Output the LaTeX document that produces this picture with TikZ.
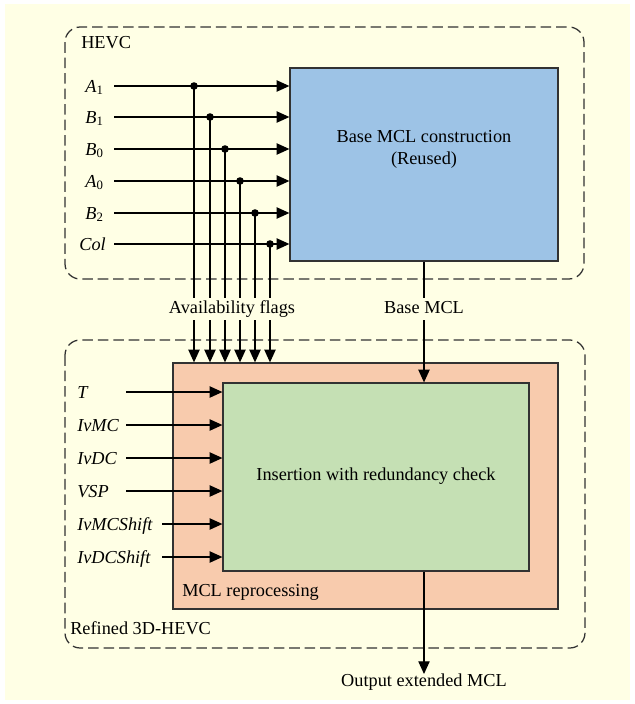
\documentclass[tikz,border=0pt]{standalone}
\usepackage{fontspec}
\setmainfont{Liberation Serif}
\usetikzlibrary{arrows.meta,fit}
\definecolor{bgyellow}{RGB}{255,255,229}
\definecolor{mclblue}{RGB}{157,195,230}
\definecolor{mclorange}{RGB}{248,203,173}
\definecolor{mclgreen}{RGB}{197,224,180}
\definecolor{edgegray}{RGB}{50,50,50}
\tikzset{
  dashbox/.style={draw=edgegray, line width=0.9pt, dash pattern=on 7.5pt off 3.5pt, rounded corners=0.38cm},
  block/.style={draw=edgegray, line width=0.9pt, inner sep=0pt},
  arr/.style={-{Triangle[length=9pt,width=8pt]}, line width=0.9pt},
  lbl/.style={font=\fontsize{13}{15}\selectfont, inner sep=0pt},
  inlbl/.style={lbl, font=\fontsize{13}{15}\selectfont\itshape},
  gaplbl/.style={lbl, fill=bgyellow, inner sep=1.5pt, text height=9pt, text depth=3pt},
  jdot/.style={fill=black},
}

\begin{document}
\begin{tikzpicture}[x=0.025cm,y=-0.025cm]
  \useasboundingbox (0,0) rectangle (635,704);
  \fill[white] (0,0) rectangle (635,704);
  \fill[bgyellow] (5,4) rectangle (630,700); %pozadie

  %ramce
  \draw[dashbox] (65,27) rectangle (584,279); %HEVC
  \draw[dashbox] (65,340) rectangle (585,648); %refined
  \node[lbl, anchor=base west] (hevc) at (81,48) {HEVC};
  \node[lbl, anchor=base west] (refined) at (70,634) {Refined 3D-HEVC};

  %bloky
  \node[block, fill=mclblue, fit={(290,68) (558,261)}] (blue) {};
  \node[lbl, align=center, anchor=base] (bluetxt) at (424,164) {Base MCL construction\\(Reused)};
  \node[block, fill=mclorange, fit={(173,363) (558,609)}] (orange) {};
  \node[block, fill=mclgreen, fit={(223,383) (529,571)}] (green) {};
  \node[lbl] (greentxt) at (376,476) {Insertion with redundancy check};
  \node[lbl, anchor=base west] (reproc) at (182,596) {MCL reprocessing};

  %vstupy HEVC
  \node[inlbl, anchor=base east] (A1) at (104,92) {A\textsubscript{\upshape 1}};
  \node[inlbl, anchor=base east] (B1) at (104,123) {B\textsubscript{\upshape 1}};
  \node[inlbl, anchor=base east] (B0) at (104,155) {B\textsubscript{\upshape 0}};
  \node[inlbl, anchor=base east] (A0) at (104,187) {A\textsubscript{\upshape 0}};
  \node[inlbl, anchor=base east] (B2) at (104,219) {B\textsubscript{\upshape 2}};
  \node[inlbl, anchor=base east] (Col) at (106,250) {Col};
  \coordinate (sA1) at (114,86);
  \coordinate (sB1) at (114,117);
  \coordinate (sB0) at (114,149);
  \coordinate (sA0) at (114,181);
  \coordinate (sB2) at (114,213);
  \coordinate (sCol) at (114,244);
  \draw[arr] (sA1) -- (sA1 -| blue.west);
  \draw[arr] (sB1) -- (sB1 -| blue.west);
  \draw[arr] (sB0) -- (sB0 -| blue.west);
  \draw[arr] (sA0) -- (sA0 -| blue.west);
  \draw[arr] (sB2) -- (sB2 -| blue.west);
  \draw[arr] (sCol) -- (sCol -| blue.west);

  %priznaky dostupnosti
  \coordinate (jA1) at (194,86);
  \coordinate (jB1) at (210,117);
  \coordinate (jB0) at (225,149);
  \coordinate (jA0) at (240,181);
  \coordinate (jB2) at (255,213);
  \coordinate (jCol) at (270,244);
  \draw[arr] (jA1) -- (jA1 |- orange.north);
  \draw[arr] (jB1) -- (jB1 |- orange.north);
  \draw[arr] (jB0) -- (jB0 |- orange.north);
  \draw[arr] (jA0) -- (jA0 |- orange.north);
  \draw[arr] (jB2) -- (jB2 |- orange.north);
  \draw[arr] (jCol) -- (jCol |- orange.north);
  \fill[jdot] (jA1) circle (2.7pt);
  \fill[jdot] (jB1) circle (2.7pt);
  \fill[jdot] (jB0) circle (2.7pt);
  \fill[jdot] (jA0) circle (2.7pt);
  \fill[jdot] (jB2) circle (2.7pt);
  \fill[jdot] (jCol) circle (2.7pt);
  \node[gaplbl] (flags) at (232,309) {Availability flags};

  %zakladny zoznam
  \draw[arr] (blue.south) -- (blue.south |- green.north);
  \node[gaplbl] (basemcl) at (424,309) {Base MCL};

  %vstupy 3D-HEVC
  \node[inlbl, anchor=base west] (T) at (77,398) {T};
  \node[inlbl, anchor=base west] (IvMC) at (77,431) {IvMC};
  \node[inlbl, anchor=base west] (IvDC) at (77,464) {IvDC};
  \node[inlbl, anchor=base west] (VSP) at (77,497) {VSP};
  \node[inlbl, anchor=base west] (IvMCShift) at (77,530) {IvMCShift};
  \node[inlbl, anchor=base west] (IvDCShift) at (77,563) {IvDCShift};
  \coordinate (sT) at (126,392);
  \coordinate (sIvMC) at (126,425);
  \coordinate (sIvDC) at (126,458);
  \coordinate (sVSP) at (126,491);
  \coordinate (sIvMCShift) at (162,524);
  \coordinate (sIvDCShift) at (162,557);
  \draw[arr] (sT) -- (sT -| green.west);
  \draw[arr] (sIvMC) -- (sIvMC -| green.west);
  \draw[arr] (sIvDC) -- (sIvDC -| green.west);
  \draw[arr] (sVSP) -- (sVSP -| green.west);
  \draw[arr] (sIvMCShift) -- (sIvMCShift -| green.west);
  \draw[arr] (sIvDCShift) -- (sIvDCShift -| green.west);

  %vystup
  \node[lbl, anchor=north] (out) at (424,674) {Output extended MCL};
  \draw[arr] (blue.south |- green.south) -- (out.north);
\end{tikzpicture}
\end{document}
